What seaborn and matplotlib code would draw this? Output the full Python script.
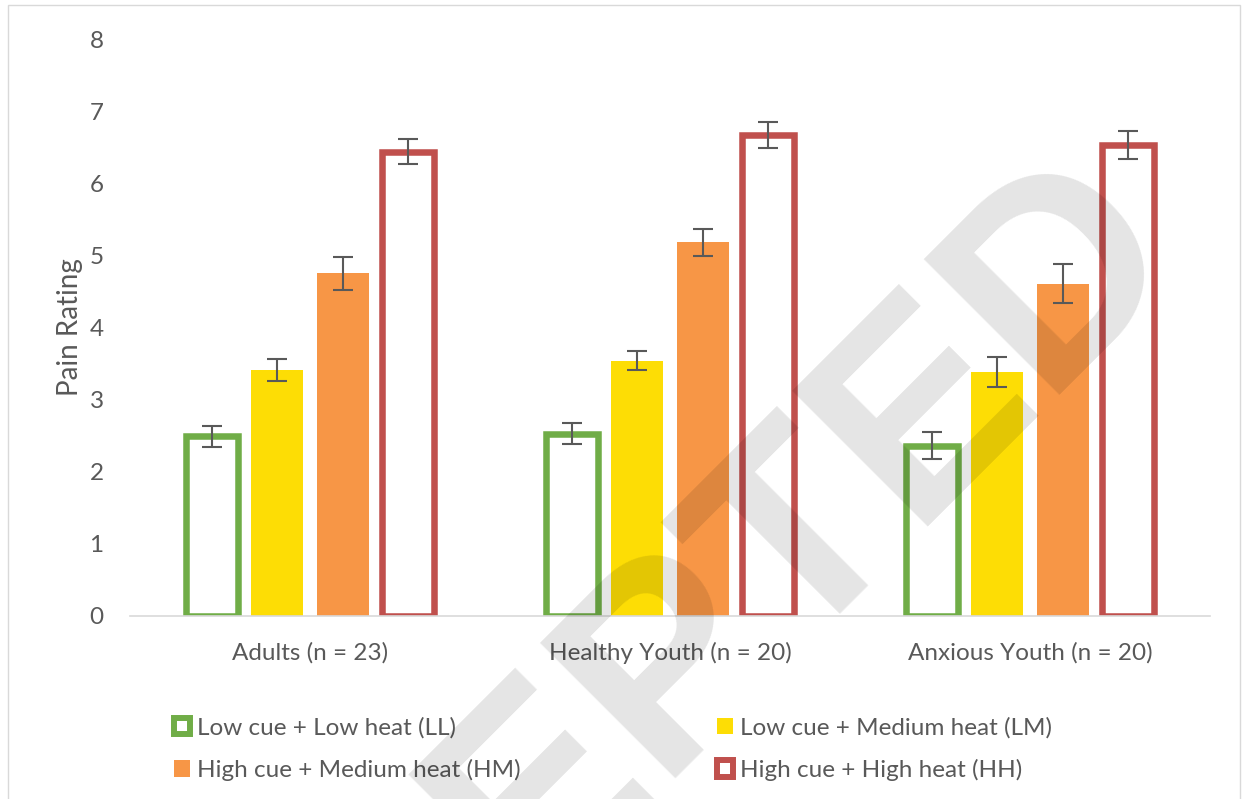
import matplotlib
matplotlib.use("Agg")
import matplotlib.pyplot as plt
from matplotlib.patches import Patch, Rectangle
import seaborn as sns
import pandas as pd

# ---- data -------------------------------------------------------------
groups = ["Adults (n = 23)", "Healthy Youth (n = 20)", "Anxious Youth (n = 20)"]
conditions = ["Low cue + Low heat (LL)", "Low cue + Medium heat (LM)",
              "High cue + Medium heat (HM)", "High cue + High heat (HH)"]
ll_mean = [2.49, 2.53, 2.36]
lm_mean = [3.41, 3.54, 3.38]
hm_mean = [4.75, 5.18, 4.61]
hh_mean = [6.44, 6.67, 6.53]
ll_sem = [0.15, 0.14, 0.19]
lm_sem = [0.155, 0.13, 0.21]
hm_sem = [0.23, 0.19, 0.27]
hh_sem = [0.18, 0.18, 0.19]
y_ticks = [0, 1, 2, 3, 4, 5, 6, 7, 8]
y_label = "Pain Rating"
watermark = "ACCEPTED"

means = [ll_mean, lm_mean, hm_mean, hh_mean]
sems = [ll_sem, lm_sem, hm_sem, hh_sem]
colors = ["#70ad47", "#fddd05", "#f79646", "#c0504d"]
hollow = [True, False, False, True]

rows = []
for cond, vals in zip(conditions, means):
    for g, v in zip(groups, vals):
        rows.append({"group": g, "condition": cond, "value": v})
df = pd.DataFrame(rows)

# ---- figure -----------------------------------------------------------
sns.set_theme(style="white")
plt.rcParams["font.family"] = ["Lato", "DejaVu Sans"]
text_grey = "#595959"
fs = 17.5

fig = plt.figure(figsize=(12.48, 7.99), dpi=100)
ax = fig.add_axes([130 / 1248, 183 / 799, 1080 / 1248, 577 / 799])

sns.barplot(data=df, x="group", y="value", hue="condition",
            order=groups, hue_order=conditions, palette=colors,
            width=0.728, gap=0.2, errorbar=None, legend=False,
            linewidth=0, saturation=1, ax=ax)

outline_lw = 4.7
for cont, col, is_hollow, err in zip(ax.containers, colors, hollow, sems):
    xs, hs = [], []
    for bar in cont:
        if is_hollow:
            bar.set_facecolor("white")
            bar.set_edgecolor(col)
            bar.set_linewidth(outline_lw)
            bar.set_joinstyle("miter")
        xs.append(bar.get_x() + bar.get_width() / 2)
        hs.append(bar.get_height())
    ax.errorbar(xs, hs, yerr=err, fmt="none", ecolor=text_grey,
                elinewidth=1.5, capsize=7.5, capthick=1.5, zorder=5)

ax.set_ylim(0, 8)
ax.set_yticks(y_ticks)
ax.set_xlim(-0.5, 2.5)
ax.set_xlabel("")
ax.set_ylabel(y_label, fontsize=20, color=text_grey, labelpad=5)
ax.tick_params(axis="y", length=0, pad=19, labelsize=fs, labelcolor=text_grey)
ax.tick_params(axis="x", length=0, pad=18.5, labelsize=fs, labelcolor=text_grey)
for side in ["left", "right", "top"]:
    ax.spines[side].set_visible(False)
ax.spines["bottom"].set_color("#d9d9d9")
ax.spines["bottom"].set_linewidth(1.2)
ax.grid(False)

# ---- legend -----------------------------------------------------------
handles = []
for col, is_hollow in zip(colors, hollow):
    if is_hollow:
        handles.append(Patch(facecolor="white", edgecolor=col, linewidth=4.3))
    else:
        handles.append(Patch(facecolor=col, edgecolor="none"))
order = [0, 2, 1, 3]
fig.legend([handles[i] for i in order], [conditions[i] for i in order],
           ncol=2, loc="upper left", bbox_to_anchor=(174 / 1248, 1 - 717 / 799),
           frameon=False, fontsize=fs, labelcolor=text_grey,
           handlelength=0.66, handleheight=0.66, handletextpad=0.3,
           columnspacing=8.05, labelspacing=0.84, borderpad=0, borderaxespad=0)

# ---- outer frame and watermark -----------------------------------------
fig.patches.append(Rectangle((8 / 1248, -0.01), 1232 / 1248, 1 - 5 / 799 + 0.01,
                             transform=fig.transFigure, fill=False,
                             edgecolor="#d9d9d9", linewidth=1.0))
fig.text(1188 / 1248, 1 - 260 / 799, watermark, rotation=45,
         rotation_mode="anchor", ha="right", va="baseline",
         fontsize=201, fontweight="bold", family="Liberation Sans",
         color="black", alpha=0.105, zorder=10)

fig.savefig("out.png", dpi=100, facecolor="white")
